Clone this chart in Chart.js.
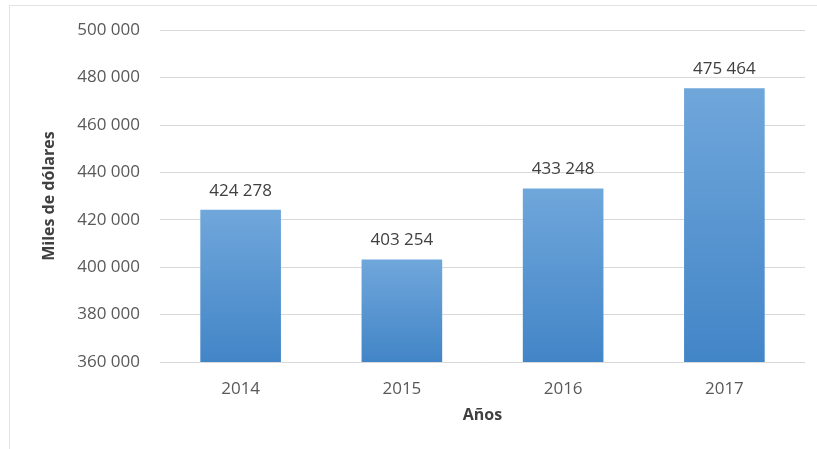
<!DOCTYPE html>
<html>
<head>
<meta charset="utf-8">
<script src="https://cdn.jsdelivr.net/npm/chart.js@4/dist/chart.umd.min.js"></script>
<style>
  body { margin: 0; background: #fff; }
  #frame {
    position: absolute; left: 9px; top: 5px; width: 900px; height: 600px;
    border: 1px solid #e3e3e3;
  }
  #wrap { position: absolute; left: 0; top: 0; width: 817px; height: 449px; }
</style>
</head>
<body>
<div id="frame"></div>
<div id="wrap"><canvas id="ventas"></canvas></div>
<script>
const years = ['2014', '2015', '2016', '2017'];
const amounts = [424278, 403254, 433248, 475464];
const yMin = 360000;
const yMax = 500000;
const yStep = 20000;

// "424 278" style grouping with a plain space
const fmt = v => String(v).replace(/\B(?=(\d{3})+(?!\d))/g, ' ');

const FONT = "'Open Sans', sans-serif";

// vertical gradient per bar, lighter at the top
function barFill(ctx) {
  const chart = ctx.chart;
  const y = chart.scales.y;
  if (!chart.chartArea || !y || ctx.dataIndex === undefined) return '#5b9bd5';
  const top = y.getPixelForValue(amounts[ctx.dataIndex]);
  const bottom = y.getPixelForValue(yMin);
  if (!isFinite(top) || !isFinite(bottom) || top === bottom) return '#5b9bd5';
  const g = chart.ctx.createLinearGradient(0, top, 0, bottom);
  g.addColorStop(0, '#70a7db');
  g.addColorStop(1, '#4285c7');
  return g;
}

const valueLabels = {
  id: 'valueLabels',
  afterDatasetsDraw(chart) {
    const ctx = chart.ctx;
    const meta = chart.getDatasetMeta(0);
    ctx.save();
    ctx.font = '17px ' + FONT;
    ctx.fillStyle = '#404040';
    ctx.textAlign = 'center';
    ctx.textBaseline = 'alphabetic';
    meta.data.forEach((bar, i) => {
      ctx.fillText(fmt(amounts[i]), bar.x, bar.y - 14);
    });
    ctx.restore();
  }
};

new Chart(document.getElementById('ventas'), {
  type: 'bar',
  data: {
    labels: years,
    datasets: [{
      data: amounts,
      backgroundColor: barFill,
      borderWidth: 0,
      barPercentage: 0.5,
      categoryPercentage: 1
    }]
  },
  options: {
    responsive: true,
    maintainAspectRatio: false,
    animation: false,
    layout: { padding: { left: 0, top: 27, right: 12, bottom: 0 } },
    plugins: { legend: { display: false }, tooltip: { enabled: false } },
    scales: {
      x: {
        grid: { display: false },
        border: { display: false },
        ticks: { color: '#595959', font: { family: FONT, size: 17 }, padding: 9 },
        title: {
          display: true, text: 'Años', color: '#404040',
          font: { family: FONT, size: 16, weight: 'bold' },
          padding: { bottom: 24 }
        },
        afterFit: s => { s.height = 87; }
      },
      y: {
        min: yMin, max: yMax,
        grid: { color: '#d9d9d9', lineWidth: 1, drawTicks: false },
        border: { display: false },
        ticks: {
          stepSize: yStep, color: '#595959', padding: 20,
          font: { family: FONT, size: 17 },
          callback: v => fmt(v)
        },
        title: {
          display: true, text: 'Miles de dólares', color: '#404040',
          font: { family: FONT, size: 16, weight: 'bold' },
          padding: { top: 40 }
        },
        afterFit: s => { s.width = 160; }
      }
    }
  },
  plugins: [valueLabels]
});
</script>
</body>
</html>
